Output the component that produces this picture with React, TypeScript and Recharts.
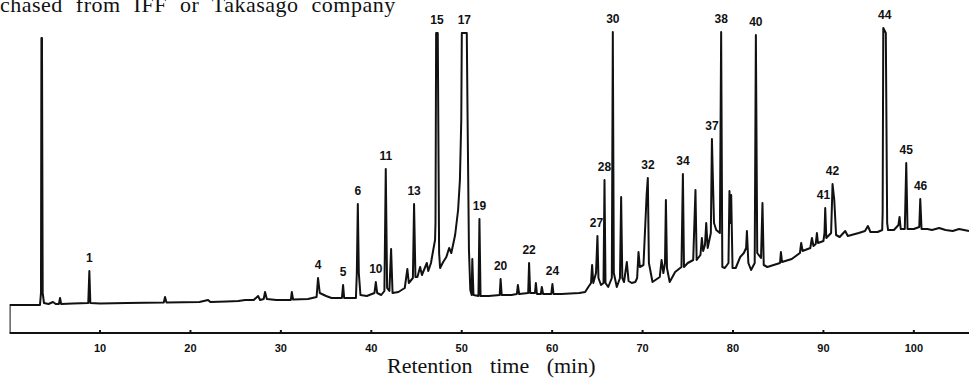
import { LineChart, Line, XAxis, YAxis, ReferenceDot } from "recharts";

// trace: [retention time (min), detector signal]
const traceEarly: [number, number][] = [
    [0, 0], [0, 28], [3.36, 28], [3.47, 40], [3.52, 295], [3.58, 295], [3.66, 40], [3.8, 30],
    [4.3, 29], [4.8, 31], [5.1, 29], [5.45, 29], [5.58, 35], [5.7, 29], [7, 29.5], [8.7, 30],
    [8.82, 62], [8.93, 30], [10, 29.5], [13, 30], [17.05, 30.5], [17.19, 36], [17.35, 30.5],
    [21, 31], [21.95, 33], [22.2, 31], [24, 31.5], [25.3, 32], [26.04, 33], [27, 33],
    [27.48, 37], [27.7, 33], [28.1, 34], [28.25, 41], [28.45, 34], [29.5, 33], [31.1, 33],
    [31.21, 41], [31.35, 33.5], [33, 34], [33.95, 36], [34.11, 55], [34.3, 40], [35, 37],
    [35.6, 35], [36.75, 35], [36.88, 48], [37.0, 35], [38.3, 35], [38.4, 60], [38.51, 129],
    [38.62, 60], [38.8, 38], [39.5, 37], [40.35, 40], [40.5, 51], [40.65, 40], [41.1, 38],
    [41.45, 42], [41.6, 164], [41.75, 45], [42.0, 42], [42.19, 84], [42.35, 40], [43.0, 41],
    [43.7, 45], [43.99, 64], [44.15, 50], [44.6, 55], [44.73, 129], [44.88, 56], [45.1, 56],
    [45.4, 66], [45.6, 58], [46.14, 70], [46.3, 62], [46.6, 70], [46.85, 83], [47.05, 93],
    [47.1, 110], [47.17, 300], [47.35, 300], [47.5, 80], [47.61, 65], [47.95, 71], [48.3, 76],
    [48.61, 85], [48.85, 80], [49.27, 98], [49.6, 123], [49.8, 153], [49.95, 213], [50.01, 300],
    [50.56, 300], [50.65, 213], [50.8, 83], [50.95, 43], [51.1, 38], [51.17, 74], [51.3, 38],
];

const traceMiddle: [number, number][] = [
    [51.85, 37], [51.96, 114], [52.08, 37], [53, 37], [54.2, 38], [54.3, 54], [54.42, 38],
    [55.5, 38], [56.1, 39], [56.21, 48], [56.35, 39], [57.35, 40], [57.45, 70], [57.57, 40],
    [58.1, 40], [58.2, 50], [58.32, 39], [58.75, 39], [58.86, 46], [59, 39], [59.9, 39],
    [60.03, 49], [60.15, 39], [61, 39], [62, 39.5], [63, 40], [63.65, 41], [64.0, 46],
    [64.3, 50], [64.42, 68], [64.55, 50], [64.85, 60], [64.93, 78], [65.01, 97], [65.12, 55],
    [65.4, 48], [65.68, 50], [65.79, 153], [65.9, 50], [66.2, 46], [66.6, 55], [66.71, 301],
    [66.82, 60], [67.15, 46], [67.5, 55], [67.63, 136], [67.76, 55], [67.95, 51], [68.26, 71],
    [68.45, 52], [68.8, 50], [69.2, 51], [69.4, 55], [69.55, 81], [69.7, 66], [70.1, 68],
    [70.45, 138], [70.58, 155], [70.7, 70], [71.1, 51], [71.9, 56], [72.1, 73], [72.3, 60],
    [72.48, 70], [72.58, 133], [72.7, 65], [73.0, 51], [73.6, 61], [74.3, 66], [74.46, 159],
    [74.58, 66], [75.0, 70], [75.6, 73], [75.85, 143], [75.98, 73], [76.4, 78], [76.56, 95],
    [76.7, 82], [76.9, 88], [77.04, 110], [77.2, 85], [77.55, 100], [77.67, 194], [77.78, 153],
    [77.9, 110], [78.15, 103], [78.55, 100], [78.69, 301], [78.82, 66], [79.1, 65], [79.5, 70],
    [79.61, 142], [79.72, 110], [79.8, 138], [79.95, 65], [80.3, 65], [80.8, 76], [81.2, 80],
    [81.45, 85], [81.54, 102], [81.7, 70], [82.0, 63], [82.4, 70], [82.53, 298], [82.68, 80],
    [83.1, 75], [83.26, 130], [83.4, 68], [83.8, 66],
];

const traceLate: [number, number][] = [
    [84.5, 68], [85.2, 70], [85.3, 81], [85.42, 71], [86.5, 74], [87.4, 80], [87.54, 90],
    [87.7, 82], [88.55, 85], [88.73, 95], [88.9, 87], [89.15, 89], [89.28, 100], [89.4, 90],
    [90.0, 92], [90.12, 100], [90.2, 125], [90.32, 95], [90.85, 100], [91.01, 149], [91.2, 133],
    [91.4, 98], [91.8, 96], [92.41, 102], [92.7, 97], [93.9, 100], [94.6, 102], [94.92, 107],
    [95.2, 101], [96.0, 101], [96.5, 103], [96.55, 120], [96.62, 305], [96.9, 300], [97.05, 110],
    [97.15, 103], [97.8, 103], [98.3, 108], [98.42, 116], [98.55, 104], [99.0, 104],
    [99.16, 170], [99.3, 104], [100.0, 104], [100.6, 106], [100.71, 134], [100.85, 104],
    [101.5, 104], [102.0, 103], [102.8, 105], [103.5, 103], [104.3, 102], [105, 104], [106.1, 102],
];

// numbered peaks
const peakNames = [
    "1", "4", "5", "6", "10", "11", "13", "15", "17", "19", "20", "22", "24",
    "27", "28", "30", "32", "34", "37", "38", "40", "41", "42", "44", "45", "46",
];
const peakTimes = [
    8.82, 34.11, 36.88, 38.51, 40.5, 41.6, 44.73, 47.26, 50.29, 51.96, 54.3, 57.45, 60.03,
    64.9, 65.79, 66.71, 70.6, 74.46, 77.67, 78.69, 82.53, 90.0, 91.0, 96.78, 99.16, 100.75,
];
const peakHeights = [
    62, 55, 48, 129, 51, 164, 129, 300, 300, 114, 54, 70, 49,
    97, 153, 301, 155, 159, 194, 301, 298, 125, 149, 305, 170, 134,
];

const timeTicks = [10, 20, 30, 40, 50, 60, 70, 80, 90, 100];

const data = [...traceEarly, ...traceMiddle, ...traceLate].map(([t, h]) => ({ t, h }));

const ink = "#111";

function TimeTick(props: any) {
    const { x, y, payload } = props;
    return (
        <g>
            <line x1={x} x2={x} y1={y} y2={y - 3} stroke={ink} strokeWidth={2} />
            <text
                x={x}
                y={y + 19}
                textAnchor="middle"
                fill={ink}
                fontSize={11}
                fontWeight="bold"
                fontFamily="'Liberation Sans', Arial, sans-serif"
            >
                {payload.value}
            </text>
        </g>
    );
}

export default function App() {
    return (
        <div style={{ position: "fixed", left: 0, top: 0, width: 969, height: 378, background: "#fff", overflow: "hidden" }}>
            <div
                style={{
                    position: "absolute",
                    left: 0,
                    top: -8,
                    fontFamily: "'Liberation Serif', 'Times New Roman', serif",
                    fontSize: 22,
                    letterSpacing: 0.5,
                    wordSpacing: 7,
                    color: ink,
                    whiteSpace: "nowrap",
                }}
            >
                chased from IFF or Takasago company
            </div>
            <LineChart width={969} height={378} data={data} margin={{ top: 13, right: 0, bottom: 0, left: 9.6 }}>
                <XAxis
                    dataKey="t"
                    type="number"
                    domain={[0, 106.1]}
                    ticks={timeTicks}
                    allowDataOverflow
                    height={45}
                    tickSize={0}
                    tickMargin={0}
                    tick={<TimeTick />}
                    axisLine={{ stroke: ink, strokeWidth: 2 }}
                    label={{
                        value: "Retention time (min)",
                        position: "insideBottom",
                        offset: 5,
                        dx: 2,
                        fill: ink,
                        fontSize: 22,
                        wordSpacing: 12,
                        fontFamily: "'Liberation Serif', 'Times New Roman', serif",
                    }}
                />
                <YAxis hide domain={[0, 320]} allowDataOverflow />
                <Line
                    type="linear"
                    dataKey="h"
                    stroke={ink}
                    strokeWidth={2}
                    strokeLinejoin="round"
                    dot={false}
                    isAnimationActive={false}
                />
                {peakNames.map((name, i) => (
                    <ReferenceDot
                        key={name}
                        x={peakTimes[i]}
                        y={peakHeights[i]}
                        r={0}
                        stroke="none"
                        label={{
                            value: name,
                            position: "top",
                            offset: 9,
                            fill: ink,
                            fontSize: 12,
                            fontWeight: "bold",
                            fontFamily: "'Liberation Sans', Arial, sans-serif",
                        }}
                    />
                ))}
            </LineChart>
        </div>
    );
}
